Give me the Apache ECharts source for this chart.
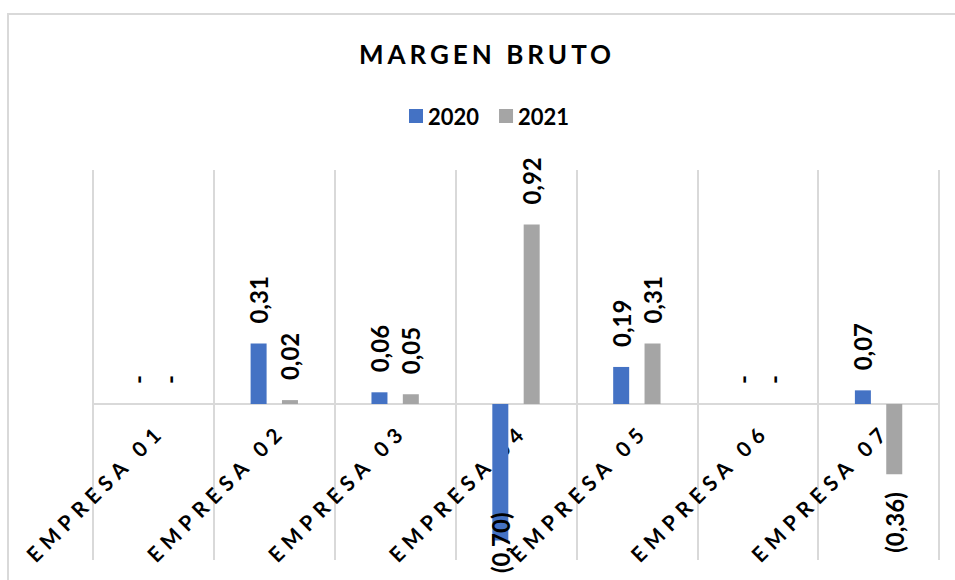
<!DOCTYPE html>
<html>
<head>
<meta charset="utf-8">
<script src="https://cdn.jsdelivr.net/npm/echarts@6/dist/echarts.min.js"></script>
<style>
  html, body { margin: 0; padding: 0; background: #fff; }
  #chart { width: 955px; height: 580px; }
  /* letter spacing for title (26px) and category labels (21px) */
  #chart text[style*=" 26px"] { letter-spacing: 4px; }
  #chart text[style*=" 21px"] { letter-spacing: 6px; }
</style>
</head>
<body>
<div id="chart"></div>
<script>
const categories = ['EMPRESA 01', 'EMPRESA 02', 'EMPRESA 03', 'EMPRESA 04', 'EMPRESA 05', 'EMPRESA 06', 'EMPRESA 07']
const values2020 = [0, 0.31, 0.06, -0.70, 0.19, 0, 0.07]
const values2021 = [0, 0.02, 0.05, 0.92, 0.31, 0, -0.36]

const fontFamily = 'Lato, "DejaVu Sans", sans-serif'

function fmt(v) {
  if (v === 0) return '-'
  const s = Math.abs(v).toFixed(2).replace('.', ',')
  return v < 0 ? '(' + s + ')' : s
}

// label above positive bars, below negative ones, rotated like Excel
function toItems(arr) {
  return arr.map(function(v) {
    const item = { value: v }
    if (v < 0) {
      item.label = { position: 'bottom', align: 'right', distance: v < -0.6 ? -28 : 18 }
    }
    return item
  })
}

const labelStyle = {
  show: true,
  position: 'top',
  rotate: 90,
  align: 'left',
  verticalAlign: 'middle',
  distance: 20,
  color: '#000',
  fontWeight: 'bold',
  fontSize: 24,
  fontFamily: fontFamily,
  formatter: function(p) { return fmt(p.value) }
}

const chart = echarts.init(document.getElementById('chart'), null, { renderer: 'svg' })
chart.setOption({
  animation: false,
  title: {
    text: 'MARGEN BRUTO',
    left: 482,
    top: 36,
    textAlign: 'center',
    textStyle: { color: '#000', fontWeight: 'bold', fontSize: 26, fontFamily: fontFamily }
  },
  legend: {
    left: 404,
    top: 100,
    itemWidth: 14,
    itemHeight: 14,
    itemGap: 20,
    icon: 'rect',
    textStyle: { color: '#000', fontWeight: 'bold', fontSize: 22, fontFamily: fontFamily }
  },
  graphic: [{
    type: 'rect',
    shape: { x: 8, y: 14, width: 1000, height: 700 },
    style: { fill: 'none', stroke: '#d9d9d9', lineWidth: 2 },
    silent: true
  }],
  grid: { left: 93, right: 16, top: 170, bottom: 20, outerBoundsMode: 'none', containLabel: false },
  xAxis: {
    type: 'category',
    data: categories,
    // axis sits on the zero line (range -0.8..1.2 over 390px -> zero is 156px above bottom)
    offset: -156,
    axisTick: { show: false },
    axisLine: { onZero: false, lineStyle: { color: '#d9d9d9', width: 2 } },
    splitLine: { show: true, lineStyle: { color: '#d9d9d9', width: 2 } },
    axisLabel: {
      interval: 0,
      rotate: 45,
      margin: 30,
      padding: [0, -10, 0, 0],
      color: '#000',
      fontWeight: 'bold',
      fontSize: 21,
      fontFamily: fontFamily
    }
  },
  yAxis: {
    type: 'value',
    min: -0.8,
    max: 1.2,
    show: false,
    splitLine: { show: false }
  },
  series: [
    {
      name: '2020',
      type: 'bar',
      barWidth: 16,
      barGap: '96%',
      itemStyle: { color: '#4472C4' },
      label: labelStyle,
      data: toItems(values2020)
    },
    {
      name: '2021',
      type: 'bar',
      barWidth: 16,
      barGap: '96%',
      itemStyle: { color: '#A5A5A5' },
      label: labelStyle,
      data: toItems(values2021)
    }
  ]
})
</script>
</body>
</html>
